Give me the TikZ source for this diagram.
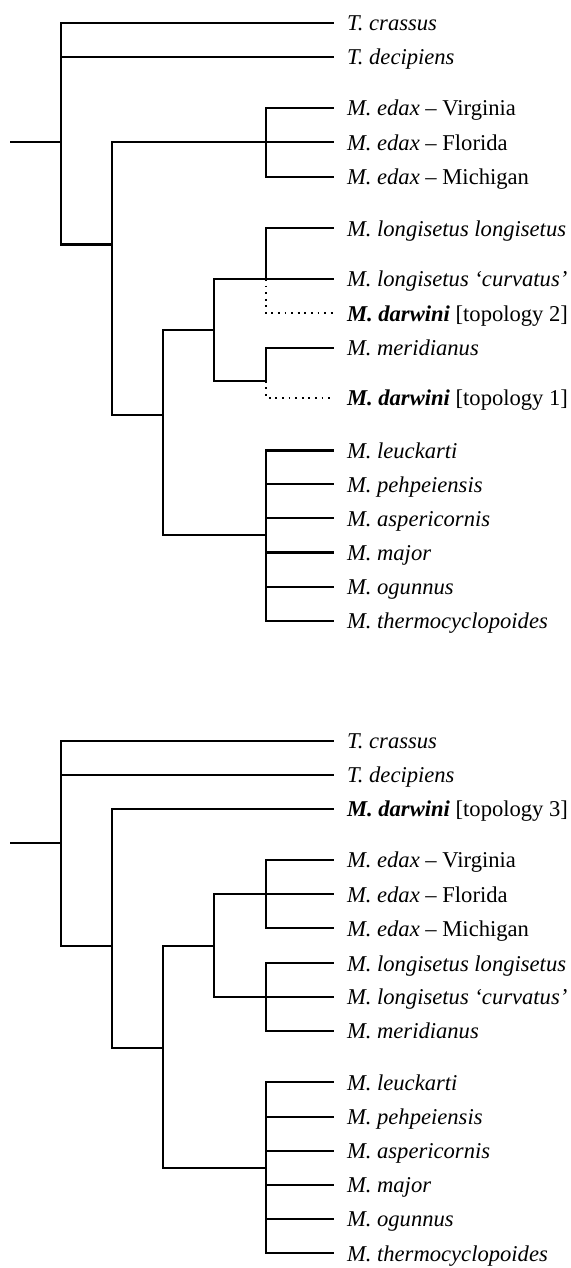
\documentclass[tikz,border=0pt]{standalone}
\usepackage{fontspec}
\setmainfont{Liberation Serif}
\newcommand{\spn}[1]{\textit{#1}}
\newcommand{\mdw}{\textbf{\textit{M. darwini}}}
\begin{document}
\begin{tikzpicture}[x=0.5pt,y=-0.5pt,
  br/.style={line width=1.05pt, line join=miter},
  dotbr/.style={line width=1.05pt, dash pattern=on 0.9pt off 2.4pt},
  leaf/.style={anchor=west, inner xsep=6.5pt, inner ysep=0pt, outer sep=0pt,
    text height=0.82em, text depth=0.05em, font=\fontsize{11.3}{13}\selectfont}]
\useasboundingbox (0,0) rectangle (571,1268);
% ---------- top tree ----------
\coordinate (s1) at (10,142.3);
\coordinate (r1) at (61,142.3);
\coordinate (a1) at (112,244.5);
\coordinate (e1) at (266,142.3);
\coordinate (b1) at (163,415);
\coordinate (c1) at (214,330);
\coordinate (l1) at (266,279);
\coordinate (m1) at (266,380.7);
\coordinate (d1) at (266,535);
\node[leaf] (tcr1) at (334,22.7) {\spn{T. crassus}};
\node[leaf] (tde1) at (334,57.3) {\spn{T. decipiens}};
\node[leaf] (ev1) at (334,108.3) {\spn{M. edax} – Virginia};
\node[leaf] (ef1) at (334,142.3) {\spn{M. edax} – Florida};
\node[leaf] (em1) at (334,176.7) {\spn{M. edax} – Michigan};
\node[leaf] (ll1) at (334,228.3) {\spn{M. longisetus longisetus}};
\node[leaf] (lc1) at (334,279) {\spn{M. longisetus `curvatus'}};
\node[leaf] (dw2) at (334,313.3) {\mdw{} [topology 2]};
\node[leaf] (me1) at (334,347.7) {\spn{M. meridianus}};
\node[leaf] (dw1) at (334,397.7) {\mdw{} [topology 1]};
\node[leaf] (le1) at (334,450.5) {\spn{M. leuckarti}};
\node[leaf] (pe1) at (334,484.3) {\spn{M. pehpeiensis}};
\node[leaf] (as1) at (334,518.3) {\spn{M. aspericornis}};
\node[leaf] (ma1) at (334,552.5) {\spn{M. major}};
\node[leaf] (og1) at (334,586.7) {\spn{M. ogunnus}};
\node[leaf] (th1) at (334,620.7) {\spn{M. thermocyclopoides}};
\draw[br] (s1) -- (r1);
\draw[br] (r1) |- (tcr1.west);
\draw[br] (r1) |- (tde1.west);
\draw[br] (r1) |- (a1);
\draw[br] (a1) |- (e1);
\draw[br] (a1) |- (b1);
\draw[br] (e1) |- (ev1.west);
\draw[br] (e1) -- (ef1.west);
\draw[br] (e1) |- (em1.west);
\draw[br] (b1) |- (c1);
\draw[br] (b1) |- (d1);
\draw[br] (c1) |- (l1);
\draw[br] (c1) |- (m1);
\draw[br] (l1) |- (ll1.west);
\draw[br] (l1) -- (lc1.west);
\draw[dotbr] (l1) |- (dw2.west);
\draw[br] (m1) |- (me1.west);
\draw[dotbr] (m1) |- (dw1.west);
\foreach \n in {le1,pe1,as1,ma1,og1,th1} \draw[br] (d1) |- (\n.west);
% ---------- bottom tree ----------
\coordinate (s2) at (10,843.3);
\coordinate (r2) at (61,843.3);
\coordinate (a2) at (112,945.7);
\coordinate (b2) at (163,1048.3);
\coordinate (c2) at (214,945.7);
\coordinate (e2) at (266,894.3);
\coordinate (l2) at (266,996.7);
\coordinate (d2) at (266,1168.3);
\node[leaf] (tcr2) at (334,740.7) {\spn{T. crassus}};
\node[leaf] (tde2) at (334,775) {\spn{T. decipiens}};
\node[leaf] (dw3) at (334,809) {\mdw{} [topology 3]};
\node[leaf] (ev2) at (334,860) {\spn{M. edax} – Virginia};
\node[leaf] (ef2) at (334,894.3) {\spn{M. edax} – Florida};
\node[leaf] (em2) at (334,928.3) {\spn{M. edax} – Michigan};
\node[leaf] (ll2) at (334,963.3) {\spn{M. longisetus longisetus}};
\node[leaf] (lc2) at (334,996.7) {\spn{M. longisetus `curvatus'}};
\node[leaf] (me2) at (334,1031) {\spn{M. meridianus}};
\node[leaf] (le2) at (334,1082.3) {\spn{M. leuckarti}};
\node[leaf] (pe2) at (334,1116.7) {\spn{M. pehpeiensis}};
\node[leaf] (as2) at (334,1151) {\spn{M. aspericornis}};
\node[leaf] (ma2) at (334,1185) {\spn{M. major}};
\node[leaf] (og2) at (334,1219) {\spn{M. ogunnus}};
\node[leaf] (th2) at (334,1253.3) {\spn{M. thermocyclopoides}};
\draw[br] (s2) -- (r2);
\draw[br] (r2) |- (tcr2.west);
\draw[br] (r2) |- (tde2.west);
\draw[br] (r2) |- (a2);
\draw[br] (a2) |- (dw3.west);
\draw[br] (a2) |- (b2);
\draw[br] (b2) |- (c2);
\draw[br] (b2) |- (d2);
\draw[br] (c2) |- (e2);
\draw[br] (c2) |- (l2);
\draw[br] (e2) |- (ev2.west);
\draw[br] (e2) -- (ef2.west);
\draw[br] (e2) |- (em2.west);
\draw[br] (l2) |- (ll2.west);
\draw[br] (l2) -- (lc2.west);
\draw[br] (l2) |- (me2.west);
\foreach \n in {le2,pe2,as2,ma2,og2,th2} \draw[br] (d2) |- (\n.west);
\end{tikzpicture}
\end{document}
